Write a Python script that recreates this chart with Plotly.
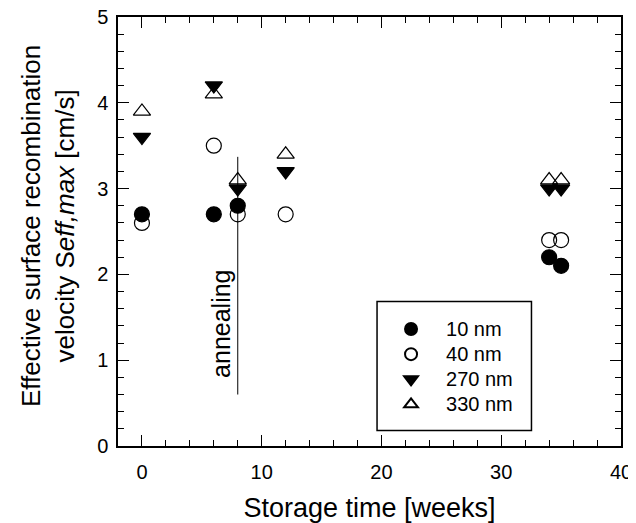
import plotly.graph_objects as go

weeks_10 = [0, 6, 8, 34, 35]
s_10 = [2.7, 2.7, 2.8, 2.2, 2.1]
weeks_40 = [0, 6, 8, 12, 34, 35]
s_40 = [2.6, 3.5, 2.7, 2.7, 2.4, 2.4]
weeks_270 = [0, 6, 8, 12, 34, 35]
s_270 = [3.6, 4.2, 3.0, 3.2, 3.0, 3.0]
weeks_330 = [0, 6, 8, 12, 34, 35]
s_330 = [3.9, 4.1, 3.1, 3.4, 3.1, 3.1]

annealing_week = 8
annealing_y = [0.6, 3.37]
annealing_label_y = 1.42

FONT = "Liberation Sans, Arial, sans-serif"

fig = go.Figure()
series = [
    ("10 nm", weeks_10, s_10, "circle", 15),
    ("40 nm", weeks_40, s_40, "circle-open", 15),
    ("270 nm", weeks_270, s_270, "triangle-down", 15),
    ("330 nm", weeks_330, s_330, "triangle-up-open", 15),
]
for name, x, y, sym, sz in series:
    fig.add_trace(go.Scatter(
        x=x, y=y, mode="markers",
        name='<span style="font-size:20px">' + name + '</span>',
        marker=dict(symbol=sym, size=sz, color="black",
                    line=dict(color="black", width=1.2)),
    ))

fig.add_shape(type="line", x0=annealing_week, x1=annealing_week,
              y0=annealing_y[0], y1=annealing_y[1], xref="x", yref="y",
              line=dict(color="black", width=1))
fig.add_annotation(x=annealing_week, y=annealing_label_y,
                   xref="x", yref="y", text="annealing", textangle=-90,
                   showarrow=False, xanchor="right", xshift=-1,
                   font=dict(family=FONT, size=25, color="black"))

# y-axis title (two lines, placed as an annotation)
fig.add_annotation(x=-0.139, y=0.513, xref="paper", yref="paper",
                   text="Effective surface recombination<br>velocity S<i>eff,max</i> [cm/s]",
                   textangle=-90, showarrow=False,
                   xanchor="center", yanchor="middle",
                   font=dict(family=FONT, size=26, color="black"))

# legend frame
fig.add_shape(type="rect", xref="paper", yref="paper",
              x0=0.515, x1=0.822, y0=0.036, y1=0.337,
              line=dict(color="black", width=1.5), fillcolor="white", layer="below")

axis_common = dict(
    showline=True, linecolor="black", linewidth=1.5, mirror="ticks",
    ticks="inside", ticklen=11, tickwidth=1, tickcolor="black",
    showgrid=False, zeroline=False, automargin=False,
    ticklabeloverflow="allow",
    tickfont=dict(family=FONT, size=20, color="black"),
)

fig.update_xaxes(range=[-2, 40], tick0=0, dtick=10,
                 minor=dict(ticks="inside", ticklen=6, dtick=2, tick0=0,
                            tickcolor="black", tickwidth=1, showgrid=False),
                 title=dict(text="Storage time [weeks]", standoff=24,
                            font=dict(family=FONT, size=27, color="black")),
                 ticklabelstandoff=7,
                 **axis_common)
fig.update_yaxes(range=[0, 5], tick0=0, dtick=1,
                 minor=dict(ticks="inside", ticklen=6, dtick=0.2, tick0=0,
                            tickcolor="black", tickwidth=1, showgrid=False),
                 ticklabelstandoff=4,
                 **axis_common)

# page body adds an 8px offset, so the figure is 8px smaller
fig.update_layout(
    width=628, height=515,
    margin=dict(l=110, r=15, t=9, b=77),
    paper_bgcolor="white", plot_bgcolor="white",
    font=dict(family=FONT, color="black"),
    showlegend=True,
    legend=dict(x=0.513, y=0.3135, xanchor="left", yanchor="top",
                borderwidth=0, bgcolor="rgba(0,0,0,0)",
                itemsizing="constant", itemwidth=60, tracegroupgap=0,
                font=dict(family=FONT, size=17, color="black")),
)

fig.write_html("out.html")
